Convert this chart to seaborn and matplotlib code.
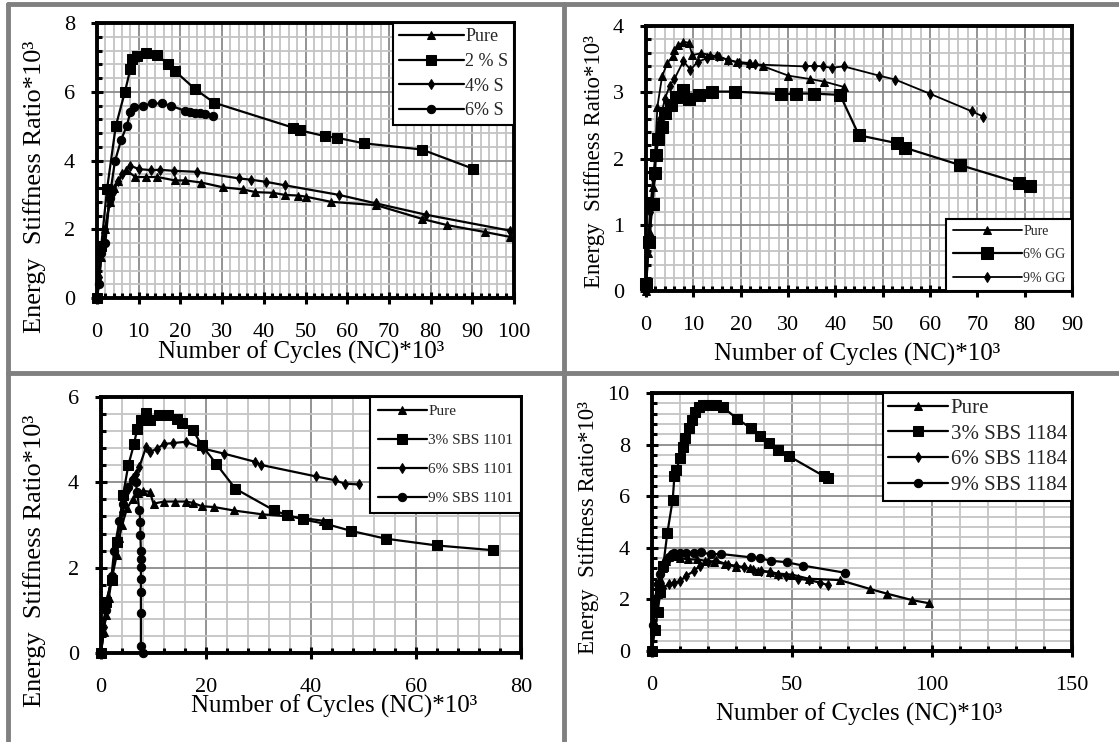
import numpy as np
import pandas as pd
import seaborn as sns
import matplotlib.pyplot as plt
from matplotlib.lines import Line2D
from matplotlib.ticker import MultipleLocator

sns.set_theme(style="white")
plt.rcParams['font.family'] = ['Liberation Serif', 'DejaVu Serif']

# ---------------- Panel 1 : S ----------------
p1_pure_x = [0, 0.5, 1, 2, 3, 4, 5, 7, 9.2, 11.8, 14.5, 18.7, 21.2, 25, 30.2, 35, 38, 42.2, 45, 48.2, 50, 56, 67, 78, 84, 93, 99]
p1_pure_y = [0, 0.5, 1.2, 2.0, 2.8, 3.2, 3.4, 3.72, 3.52, 3.52, 3.52, 3.42, 3.42, 3.36, 3.22, 3.16, 3.08, 3.06, 3.0, 2.98, 2.95, 2.8, 2.7, 2.3, 2.12, 1.92, 1.78]
p1_s2_x = [0, 1, 2.4, 4.5, 6.7, 8.0, 8.4, 9.7, 11.8, 14.4, 17, 18.7, 23.6, 28.1, 46.9, 48.6, 54.6, 57.6, 64, 77.9, 90.2]
p1_s2_y = [0, 1.5, 3.16, 5.0, 6.0, 6.66, 6.95, 7.05, 7.14, 7.08, 6.8, 6.6, 6.07, 5.68, 4.96, 4.88, 4.71, 4.66, 4.5, 4.32, 3.76]
p1_s4_x = [0, 0.5, 1, 2, 3, 4, 5, 6, 8, 10, 13, 15, 18.5, 24, 34, 37, 40.5, 45, 58, 67, 79, 99]
p1_s4_y = [0, 0.6, 1.3, 2.0, 2.8, 3.1, 3.4, 3.6, 3.85, 3.75, 3.72, 3.73, 3.7, 3.67, 3.48, 3.44, 3.38, 3.28, 3.0, 2.75, 2.42, 1.96]
p1_s6_x = [0, 0.5, 1, 2, 3, 4.3, 5.8, 7.1, 8.0, 8.8, 11, 13.1, 15.7, 17.8, 21.2, 22.3, 23.4, 24.6, 25.9, 27.7]
p1_s6_y = [0, 0.4, 1.3, 1.6, 2.9, 3.98, 4.6, 5.0, 5.4, 5.57, 5.59, 5.66, 5.66, 5.59, 5.44, 5.42, 5.39, 5.37, 5.35, 5.3]

# ---------------- Panel 2 : GG ----------------
p2_pure_x = [0, 0.5, 0.9, 1.4, 1.9, 2.4, 3.4, 4.5, 5.6, 6.0, 6.8, 7.9, 9.0, 9.8, 11.7, 13.6, 15.4, 17.3, 19.2, 22, 24.8, 30.1, 34.6, 37.7, 41.8]
p2_pure_y = [0, 0.57, 0.87, 1.57, 2.03, 2.78, 3.24, 3.44, 3.54, 3.64, 3.71, 3.76, 3.75, 3.56, 3.59, 3.56, 3.54, 3.49, 3.46, 3.44, 3.39, 3.25, 3.2, 3.16, 3.08]
p2_gg6_x = [0, 0.6, 1.4, 1.9, 2.1, 2.6, 3.4, 4.1, 5.3, 6.4, 7.9, 9.0, 11.3, 13.9, 18.8, 28.5, 31.6, 35.4, 41.0, 45.0, 53.1, 54.8, 66.4, 78.9, 81.2]
p2_gg6_y = [0.1, 0.74, 1.32, 1.78, 2.05, 2.29, 2.48, 2.68, 2.81, 2.93, 3.03, 2.9, 2.96, 3.01, 3.01, 2.97, 2.98, 2.98, 2.96, 2.35, 2.23, 2.16, 1.9, 1.63, 1.58]
p2_gg9_x = [0, 0.8, 1.5, 2.2, 3, 4, 5, 6, 7.9, 9.4, 10.9, 12.8, 15, 17.3, 19.6, 21.8, 23, 33.5, 35.4, 37.3, 39.2, 41.8, 49.3, 52.7, 59.9, 68.9, 71.3]
p2_gg9_y = [0.1, 1.2, 1.7, 2.1, 2.6, 2.9, 3.1, 3.2, 3.47, 3.34, 3.46, 3.51, 3.54, 3.49, 3.44, 3.42, 3.42, 3.39, 3.4, 3.39, 3.37, 3.39, 3.25, 3.19, 2.98, 2.71, 2.63]

# ---------------- Panel 3 : SBS 1101 ----------------
p3_pure_x = [0, 0.5, 1, 1.5, 2, 3, 3.5, 4, 5, 6, 7, 8, 9.3, 10, 12, 14.1, 16.1, 17.5, 19.2, 21.6, 25.3, 30.7, 36, 42.3]
p3_pure_y = [0, 0.5, 0.9, 1.3, 1.7, 2.3, 2.7, 3.0, 3.4, 3.6, 3.75, 3.8, 3.78, 3.5, 3.55, 3.55, 3.55, 3.52, 3.44, 3.42, 3.34, 3.25, 3.2, 3.1]
p3_sbs3_x = [0, 1, 2, 3, 4.2, 5.2, 6.3, 6.9, 7.6, 8.6, 9.3, 11, 12.7, 14.4, 15.4, 17.5, 19.2, 21.9, 25.6, 33, 35.5, 38.5, 43, 47.7, 54.2, 64, 74.6]
p3_sbs3_y = [0, 1.2, 1.7, 2.6, 3.7, 4.4, 4.9, 5.26, 5.45, 5.63, 5.47, 5.57, 5.57, 5.49, 5.38, 5.22, 4.87, 4.44, 3.85, 3.34, 3.23, 3.13, 3.02, 2.86, 2.68, 2.52, 2.41]
p3_sbs6_x = [0, 0.5, 1, 2, 3, 4, 5, 6, 6.6, 7.3, 8.6, 9.3, 10.7, 12, 13.7, 16.1, 19.5, 23.5, 29.4, 30.4, 40.9, 44.5, 46.4, 49.1]
p3_sbs6_y = [0, 0.6, 1.2, 1.7, 2.6, 3.3, 3.8, 4.1, 4.2, 4.36, 4.83, 4.71, 4.79, 4.9, 4.92, 4.95, 4.79, 4.67, 4.48, 4.41, 4.14, 4.05, 3.97, 3.95]
p3_sbs9_x = [0, 1, 2, 2.5, 3.5, 4.2, 5.2, 6.0, 6.6, 6.9, 7.3, 7.5, 7.5, 7.6, 7.6, 7.6, 7.6, 7.6, 7.6, 7.6, 8.0]
p3_sbs9_y = [0, 1.0, 1.8, 2.4, 3.1, 3.5, 3.9, 4.05, 4.0, 3.77, 3.34, 3.07, 2.76, 2.4, 2.2, 2.02, 1.74, 1.43, 0.94, 0.16, 0.0]

# ---------------- Panel 4 : SBS 1184 ----------------
p4_pure_x = [0, 1, 2, 3, 4, 5, 6, 7, 8, 10, 13, 16, 19, 22, 26, 30, 35, 38, 42, 45, 50, 56, 67, 78, 84, 93, 99]
p4_pure_y = [0, 1.6, 2.2, 2.8, 3.2, 3.5, 3.65, 3.75, 3.7, 3.6, 3.55, 3.55, 3.5, 3.45, 3.38, 3.27, 3.2, 3.12, 3.07, 3.0, 2.96, 2.8, 2.75, 2.4, 2.22, 1.97, 1.85]
p4_sbs3_x = [0, 1, 2, 3, 4, 5.5, 7.4, 8.0, 8.7, 9.9, 11.2, 11.8, 13.1, 14.4, 15.4, 16.9, 18.2, 20.1, 22.7, 25.2, 30.3, 35.4, 38.6, 41.8, 45, 48.8, 61.5, 62.8]
p4_sbs3_y = [0, 0.8, 1.5, 2.3, 3.3, 4.59, 5.87, 6.77, 7.0, 7.47, 7.92, 8.24, 8.63, 8.97, 9.27, 9.46, 9.53, 9.53, 9.53, 9.46, 9.01, 8.63, 8.33, 8.08, 7.8, 7.56, 6.77, 6.7]
p4_sbs6_x = [0, 0.5, 1, 2, 4, 6, 8, 10, 12, 15, 17, 20, 23, 27, 30, 33, 36, 39, 42, 45, 48, 52, 56, 60, 63]
p4_sbs6_y = [0, 1.0, 1.8, 2.2, 2.45, 2.6, 2.65, 2.7, 2.9, 3.1, 3.3, 3.45, 3.5, 3.35, 3.3, 3.25, 3.15, 3.1, 3.05, 2.95, 2.9, 2.8, 2.75, 2.65, 2.55]
p4_sbs9_x = [0, 0.5, 1, 2, 3, 4, 5, 6, 7, 8, 10, 12, 15, 17.6, 21, 24.6, 35.4, 38.6, 42.4, 48.1, 53.9, 69.1]
p4_sbs9_y = [0, 1.0, 2.0, 2.6, 3.0, 3.3, 3.5, 3.65, 3.75, 3.8, 3.8, 3.78, 3.8, 3.82, 3.75, 3.76, 3.63, 3.59, 3.5, 3.44, 3.31, 3.03]

XLABEL = "Number of Cycles (NC)*10³"
YLABEL = "Energy  Stiffness Ratio*10³"

W, H = 1119, 742
fig = plt.figure(figsize=(W / 100, H / 100), dpi=100)


def px_axes(l, r, t, b):
    return fig.add_axes([l / W, 1 - b / H, (r - l) / W, (b - t) / H])


def style_axes(ax, xmax, ymax, xmaj, xmin_, ymaj, ymin_, ylab_pos, xlab_pos,
               tick_fs=16, xlab_fs=18, ylab_fs=18):
    ax.set_xlim(0, xmax)
    ax.set_ylim(0, ymax)
    ax.xaxis.set_major_locator(MultipleLocator(xmaj))
    ax.xaxis.set_minor_locator(MultipleLocator(xmin_))
    ax.yaxis.set_major_locator(MultipleLocator(ymaj))
    ax.yaxis.set_minor_locator(MultipleLocator(ymin_))
    ax.grid(which='minor', color='#c4c4c4', lw=1.3, zorder=0)
    ax.grid(which='major', color='#8a8a8a', lw=1.3, zorder=0)
    ax.set_axisbelow(True)
    for s in ax.spines.values():
        s.set_visible(True)
        s.set_color('black')
        s.set_linewidth(2.8)
    ax.tick_params(which='major', direction='inout', length=8, width=2.2, colors='black',
                   labelsize=tick_fs, bottom=True, left=True, pad=14)
    ax.tick_params(which='minor', direction='in', length=3.5, width=2.2, colors='black',
                   bottom=True, left=True)
    ax.tick_params(axis='y', which='major', pad=12)
    ax.set_xlabel(XLABEL, fontsize=xlab_fs, color='black')
    ax.set_ylabel(YLABEL, fontsize=ylab_fs, color='black')
    ax.yaxis.set_label_coords(*ylab_pos)
    ax.xaxis.set_label_coords(*xlab_pos)


def draw(ax, x, y, marker, ms, label, lw=1.6):
    sns.lineplot(x=x, y=y, ax=ax, color='black', marker=marker, markersize=ms, lw=lw,
                 markeredgecolor='black', markerfacecolor='black', sort=False,
                 estimator=None, label=label, zorder=3, clip_on=False)


def legend(ax, loc, anchor, fs, handlelen=2.4, spacing=0.45, bpad=0.5):
    leg = ax.legend(loc=loc, bbox_to_anchor=anchor, frameon=True, fancybox=False,
                    edgecolor='black', framealpha=1, fontsize=fs, borderaxespad=0,
                    handlelength=handlelen, handletextpad=0.1, labelspacing=spacing,
                    borderpad=bpad)
    leg.get_frame().set_linewidth(1.5)
    leg.set_zorder(5)


# Panel 1
ax1 = px_axes(97, 514, 23, 298)
draw(ax1, p1_pure_x, p1_pure_y, '^', 6, 'Pure')
draw(ax1, p1_s2_x, p1_s2_y, 's', 7, '2 % S')
draw(ax1, p1_s4_x, p1_s4_y, 'd', 5, '4% S')
draw(ax1, p1_s6_x, p1_s6_y, 'o', 6, '6% S')
style_axes(ax1, 100, 8, 10, 2, 2, 0.4, (-0.122, 0.404), (0.49, -0.156), ylab_fs=19)
legend(ax1, 'upper right', (1, 1), 13, handlelen=3.6, spacing=0.42, bpad=0.3)

# Panel 2
ax2 = px_axes(646, 1072, 26, 291)
draw(ax2, p2_pure_x, p2_pure_y, '^', 6, 'Pure', lw=1.3)
draw(ax2, p2_gg6_x, p2_gg6_y, 's', 9, '6% GG', lw=1.6)
draw(ax2, p2_gg9_x, p2_gg9_y, 'd', 5, '9% GG', lw=1.3)
style_axes(ax2, 90, 4, 10, 2, 1, 0.2, (-0.096, 0.49), (0.495, -0.196), ylab_fs=16.5)
legend(ax2, 'lower right', (1, 0), 10, handlelen=5.0, spacing=0.75, bpad=0.45)

# Panel 3
ax3 = px_axes(101, 521, 397, 653)
draw(ax3, p3_pure_x, p3_pure_y, '^', 6, 'Pure')
draw(ax3, p3_sbs3_x, p3_sbs3_y, 's', 7, '3% SBS 1101')
draw(ax3, p3_sbs6_x, p3_sbs6_y, 'd', 5, '6% SBS 1101')
draw(ax3, p3_sbs9_x, p3_sbs9_y, 'o', 6, '9% SBS 1101')
style_axes(ax3, 80, 6, 20, 4, 2, 0.4, (-0.131, 0.36), (0.555, -0.164), ylab_fs=19)
legend(ax3, 'upper right', (1, 1), 11, handlelen=3.2, spacing=1.0)

# Panel 4
ax4 = px_axes(652, 1072, 393, 651)
draw(ax4, p4_pure_x, p4_pure_y, '^', 6, 'Pure')
draw(ax4, p4_sbs3_x, p4_sbs3_y, 's', 7, '3% SBS 1184')
draw(ax4, p4_sbs6_x, p4_sbs6_y, 'd', 5, '6% SBS 1184')
draw(ax4, p4_sbs9_x, p4_sbs9_y, 'o', 6, '9% SBS 1184')
style_axes(ax4, 150, 10, 50, 10, 2, 0.4, (-0.126, 0.48), (0.493, -0.2), ylab_fs=16.5)
legend(ax4, 'upper right', (1, 1), 15, handlelen=2.9, spacing=0.3, bpad=0.25)

# table-like frame lines
frame_kw = dict(color='#808080', lw=3.5, transform=fig.transFigure)
fig.add_artist(Line2D([8 / W, 1], [1 - 4 / H, 1 - 4 / H], **frame_kw))
fig.add_artist(Line2D([8 / W, 8 / W], [0, 1 - 4 / H], **frame_kw))
fig.add_artist(Line2D([564 / W, 564 / W], [0, 1 - 4 / H], **frame_kw))
fig.add_artist(Line2D([8 / W, 1], [1 - 373 / H, 1 - 373 / H], **frame_kw))

fig.savefig('out.png', dpi=100)
